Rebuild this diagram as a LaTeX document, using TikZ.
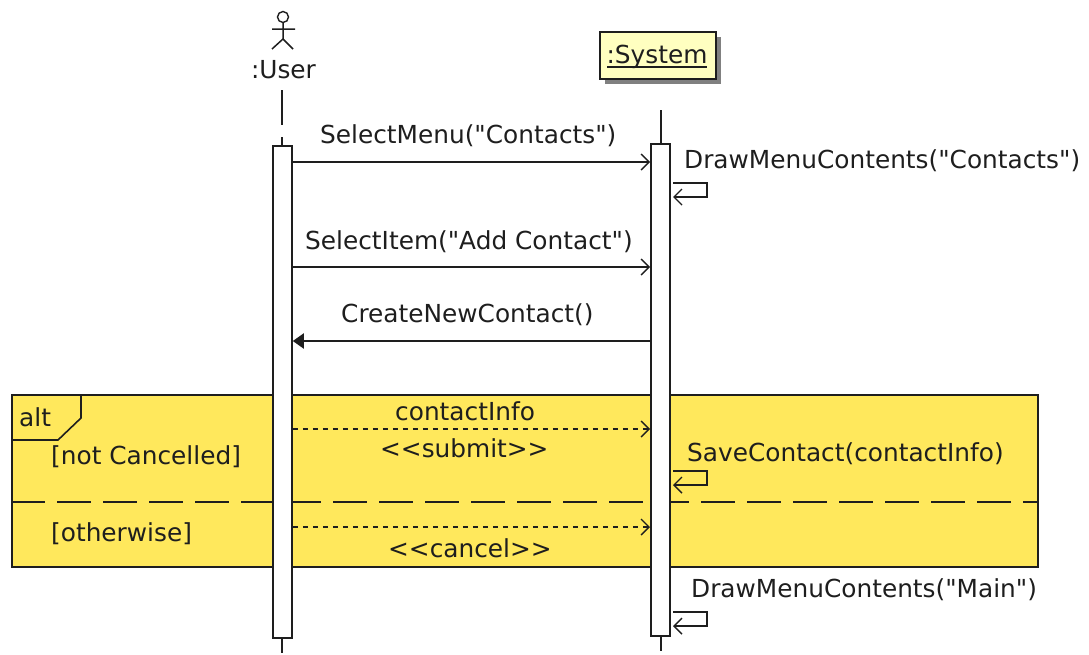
\documentclass[tikz,border=0pt]{standalone}
\usepackage{fontspec}
\newfontfamily\djv{DejaVu Sans}
\usetikzlibrary{arrows.meta}
\definecolor{altfill}{HTML}{FFE85C}
\definecolor{notefill}{HTML}{FFFFC0}
\definecolor{ink}{HTML}{1E1E1E}
\tikzset{
  x=1pt,y=-1pt,
  line/.style={draw=ink,line width=2pt},
  lbl/.style={inner sep=0pt,anchor=base west,text=ink,font=\djv\fontsize{24.8}{29}\selectfont},
  activation/.style={line,fill=white,minimum width=19pt,inner sep=0pt,anchor=north},
  openhead/.style={-{Straight Barb[length=8pt,width=16pt,line width=1.4pt]}},
  filledhead/.style={-{Triangle[length=11pt,width=15pt]}},
  msg/.style={line,openhead},
  ret/.style={line,openhead,dash pattern=on 5pt off 5pt},
  call/.style={line,filledhead},
  selfmsg/.style={line,openhead},
  lifeline/.style={line},
}
\begin{document}
\begin{tikzpicture}
\useasboundingbox (0,0) rectangle (1089,654);
% alt frame
\node[line,fill=altfill,inner sep=0pt,anchor=north west,minimum width=1026pt,minimum height=172pt] (frame) at (11,394) {};
\draw[line,line width=1.6pt] (81,394) -- (81,418) -- (58,440) -- (11,440);
\draw[line,dash pattern=on 34pt off 12pt] (frame.west |- 0,502) -- (frame.east |- 0,502);
\node[lbl] (alt) at (19,426) {alt};
\node[lbl] (g1) at (51,464) {[not Cancelled]};
\node[lbl] (g2) at (51,541) {[otherwise]};
% actor
\node[draw=ink,line width=1.4pt,circle,minimum size=11pt,inner sep=0pt] (head) at (283,17) {};
\coordinate (hip) at (283,39);
\coordinate (armL) at (272,29);
\coordinate (armR) at (295,29);
\coordinate (footL) at (272,49);
\coordinate (footR) at (293,49);
\draw[line,line width=1.5pt] (head.south) -- (hip) (armL) -- (armR) (footL) -- (hip) -- (footR);
\node[lbl,anchor=base] (user) at (283.5,78) {:User};
% system
\node[fill=black!50,minimum width=116pt,minimum height=47pt,inner sep=0pt,anchor=north west] (sysshadow) at (605,37) {};
\node[line,fill=notefill,minimum width=116pt,minimum height=47pt,inner sep=0pt,anchor=north west] (sys) at (599,31) {};
\node[lbl,anchor=base] (systext) at (657,63) {:System};
\coordinate (ulS) at (607,67);
\coordinate (ulE) at (707,67);
\draw[line] (ulS) -- (ulE);
% lifelines
\coordinate (u0) at (282.3,90);
\coordinate (u1) at (282.3,125);
\coordinate (u2) at (282.3,137);
\coordinate (s0) at (660.5,110);
\node[activation,minimum height=492pt] (ua) at (282.3,145) {};
\node[activation,minimum height=492pt] (sa) at (660.5,143) {};
\coordinate (u3) at (282.3,653);
\coordinate (s3) at (660.5,651);
\draw[lifeline] (u0) -- (u1) (u2) -- (ua.north);
\draw[lifeline] (ua.south) -- (u3);
\draw[lifeline] (s0) -- (sa.north);
\draw[lifeline] (sa.south) -- (s3);
% messages
\draw[msg] (ua.east |- 0,162) -- (sa.west |- 0,162);
\node[lbl] (m1) at (320,143) {SelectMenu("Contacts")};
\draw[msg] (ua.east |- 0,267) -- (sa.west |- 0,267);
\node[lbl] (m2) at (305,249) {SelectItem("Add Contact")};
\draw[call] (sa.west |- 0,341) -- (ua.east |- 0,341);
\node[lbl] (m3) at (341,322) {CreateNewContact()};
\draw[ret] (ua.east |- 0,429) -- (sa.west |- 0,429);
\node[lbl] (m4) at (395,420) {contactInfo};
\node[lbl] (m5) at (380,457) {<{}<submit>{}>};
\draw[ret] (ua.east |- 0,527) -- (sa.west |- 0,527);
\node[lbl] (m6) at (388,557) {<{}<cancel>{}>};
% self messages
\node[lbl] (s1) at (684,168) {DrawMenuContents("Contacts")};
\node[lbl] (s2) at (687,461) {SaveContact(contactInfo)};
\node[lbl] (s4) at (691,597) {DrawMenuContents("Main")};
\draw[selfmsg] ([xshift=2pt]sa.east |- 0,183) -- (707,183) -- (707,197) -- ([xshift=2pt]sa.east |- 0,197);
\draw[selfmsg] ([xshift=2pt]sa.east |- 0,471) -- (707,471) -- (707,485) -- ([xshift=2pt]sa.east |- 0,485);
\draw[selfmsg] ([xshift=2pt]sa.east |- 0,612) -- (707,612) -- (707,626) -- ([xshift=2pt]sa.east |- 0,626);
\end{tikzpicture}
\end{document}
